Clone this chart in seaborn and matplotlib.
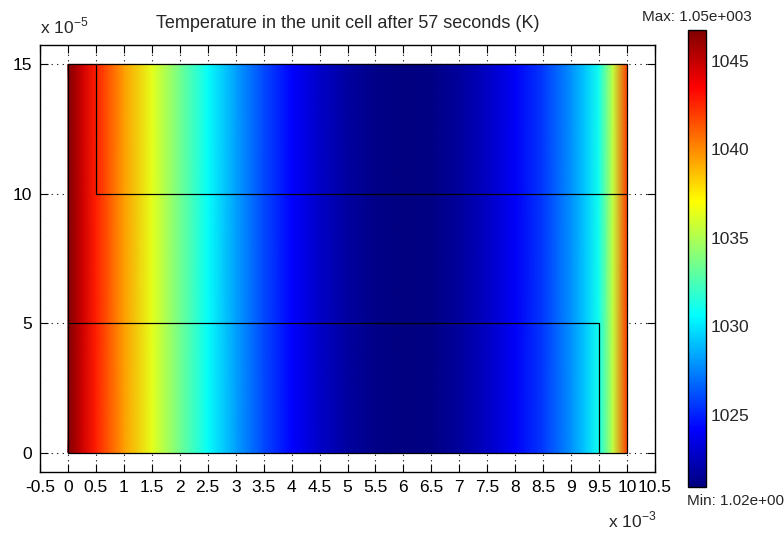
import numpy as np
import matplotlib
matplotlib.use("Agg")
import matplotlib.pyplot as plt
from matplotlib.colors import LinearSegmentedColormap
import seaborn as sns

# temperature profile across the cell (x in units of 1e-3, T in K)
x_pos = [0, 0.25, 0.5, 1, 1.5, 2, 2.5, 3, 3.5, 4, 4.5, 5, 5.5, 6, 6.5,
         7, 7.5, 8, 8.5, 9, 9.25, 9.5, 9.75, 10]
temp = [1046.7, 1044.8, 1042.8, 1039.5, 1036.4, 1033.5, 1030.7, 1028.2,
        1026.0, 1024.2, 1022.8, 1021.8, 1021.2, 1020.9, 1021.1, 1021.7,
        1022.7, 1024.0, 1025.6, 1027.8, 1029.2, 1031.0, 1035.5, 1042.0]
y_pos = [0, 15]  # y in units of 1e-5

# subdomain boundaries
bound_x = [[0.5, 0.5, 10], [0, 9.5, 9.5], [0, 10, 10, 0, 0]]
bound_y = [[15, 10, 10], [5, 5, 0], [0, 0, 15, 15, 0]]

x_ticks = np.arange(-0.5, 10.51, 0.5)
x_labels = ["-0.5", "0", "0.5", "1", "1.5", "2", "2.5", "3", "3.5", "4", "4.5",
            "5", "5.5", "6", "6.5", "7", "7.5", "8", "8.5", "9", "9.5", "10", "10.5"]
y_ticks = [0, 5, 10, 15]
cbar_ticks = [1025, 1030, 1035, 1040, 1045]
t_min, t_max = 1020.9, 1046.75

sns.set_style("ticks")
plt.rcParams["font.family"] = ["Liberation Sans", "DejaVu Sans"]
plt.rcParams["font.size"] = 12

# matlab style jet
jet = LinearSegmentedColormap.from_list(
    "mjet", [(0, (0, 0, 0.5)), (0.125, (0, 0, 1)), (0.375, (0, 1, 1)),
             (0.625, (1, 1, 0)), (0.875, (1, 0, 0)), (1, (0.5, 0, 0))])

fig = plt.figure(figsize=(7.84, 5.33), dpi=100)
ax = fig.add_axes([40 / 784, 1 - 472 / 533, 615 / 784, 427 / 533])
cax = fig.add_axes([688 / 784, 1 - 487 / 533, 18 / 784, 457 / 533])

X, Y = np.meshgrid(x_pos, y_pos)
C = np.tile(temp, (len(y_pos), 1))
mesh = ax.pcolormesh(X, Y, C, cmap=jet, shading="gouraud",
                     vmin=t_min, vmax=t_max, zorder=2)

for bx, by in zip(bound_x, bound_y):
    ax.plot(bx, by, color="black", lw=0.9, zorder=3)

ax.set_xlim(-0.5, 10.5)
ax.set_ylim(-0.75, 15.75)
ax.set_xticks(x_ticks)
ax.set_xticklabels(x_labels)
ax.set_yticks(y_ticks)
ax.set_axisbelow(True)
ax.grid(True, color="black", linestyle=(0, (1, 4)), lw=0.8, zorder=0)
ax.tick_params(direction="in", top=True, right=True, length=5.5, width=0.8,
               labelsize=12.5, pad=6, colors="black")
for s in ax.spines.values():
    s.set_linewidth(1.0)
    s.set_color("black")
ax.set_title("Temperature in the unit cell after 57 seconds (K)",
             fontsize=13, pad=12)

fig.text(40 / 784, 1 - 33 / 533, "x 10$^{\\mathregular{-5}}$", fontsize=12.5)
fig.text(608 / 784, 1 - 527 / 533, "x 10$^{\\mathregular{-3}}$", fontsize=12.5)

cb = fig.colorbar(mesh, cax=cax, ticks=cbar_ticks)
cb.outline.set_linewidth(1.0)
cb.outline.set_edgecolor("black")
cax.tick_params(direction="in", length=3, labelsize=12.5, left=True, right=True,
                width=0.8, pad=3)
fig.text(697 / 784, 1 - 21 / 533, "Max: 1.05e+003", ha="center", fontsize=11)
fig.text(687 / 784, 1 - 505 / 533, "Min: 1.02e+003", ha="left", fontsize=11)

fig.savefig("out.png", dpi=100)
